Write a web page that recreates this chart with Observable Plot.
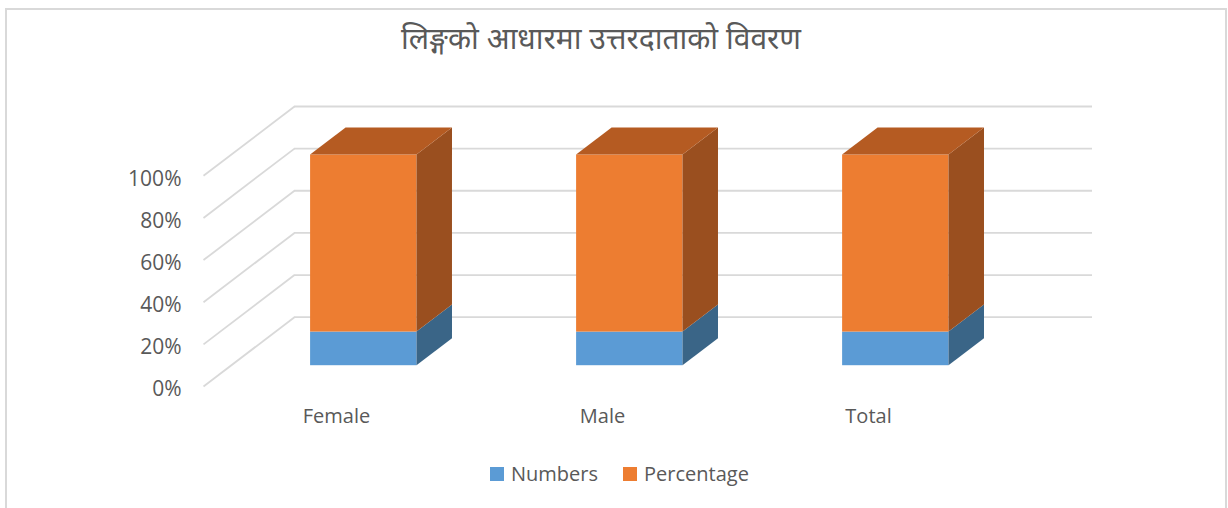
<!DOCTYPE html>
<html>
<head>
<meta charset="utf-8">
<script src="https://cdn.jsdelivr.net/npm/d3@7"></script>
<script src="https://cdn.jsdelivr.net/npm/@observablehq/plot@0.6"></script>
<style>
  html, body { margin: 0; padding: 0; background: #fff; width: 1228px; height: 508px; overflow: hidden; }
  #frame { position: absolute; left: 5px; top: 8px; width: 1222px; height: 520px; border: 2px solid #D9D9D9; box-sizing: border-box; pointer-events: none; }
  #title { height: 70px; display: flex; align-items: center; justify-content: center; padding-right: 26px; padding-top: 4px; box-sizing: border-box;
           font-family: "Noto Sans", sans-serif; font-size: 30px; color: #595959; }
  #chart { height: 370px; }
  #legend { height: 68px; display: flex; align-items: flex-start; padding-left: 490px; padding-top: 20px; box-sizing: border-box;
            font-family: "Open Sans", sans-serif; font-size: 20px; color: #595959; line-height: 28px; }
  .item { display: flex; align-items: center; margin-right: 25px; }
  .sw { width: 14px; height: 14px; margin-right: 7px; }
</style>
</head>
<body>
<div id="frame"></div>
<div id="title">लिङ्गको आधारमा उत्तरदाताको विवरण</div>
<div id="chart"></div>
<div id="legend"></div>
<script>
// ---- data ----
const categories = ["Female", "Male", "Total"];
const seriesNames = ["Numbers", "Percentage"];
const numbers = [10, 9, 19];
const percentage = [52.6, 47.4, 100];
const yTicks = [0, 20, 40, 60, 80, 100];

// ---- style ----
const frontColors = ["#5B9BD5", "#ED7D31"];
const sideColors = ["#3A6587", "#9A4F1F"];
const topColors = ["#3E6E99", "#B55B22"];
const gridColor = "#D9D9D9";

// oblique depth (in data units): full depth of floor
const DX = 0.342, DY = 32.9;
const D0 = 0.3, D1 = 0.69, HALF = 0.2;

// 100% stacked segments
const segments = categories.flatMap((c, i) => {
  const vals = [numbers[i], percentage[i]];
  const tot = d3.sum(vals);
  let lo = 0;
  return vals.map((v, k) => {
    const share = v / tot * 100;
    const seg = {i, k, lo, hi: lo + share, id: `${c}-${k}`};
    lo += share;
    return seg;
  });
});

const sidePts = segments.flatMap(d => [
  {id: d.id, x: d.i + HALF + D0 * DX, y1: d.lo + D0 * DY, y2: d.hi + D0 * DY, fill: sideColors[d.k]},
  {id: d.id, x: d.i + HALF + D1 * DX, y1: d.lo + D1 * DY, y2: d.hi + D1 * DY, fill: sideColors[d.k]}
]);
const topSegs = segments.filter(d => d.k === seriesNames.length - 1);
const topPts = topSegs.flatMap(d => [
  {id: d.id, y: d.hi + D0 * DY, x1: d.i - HALF + D0 * DX, x2: d.i + HALF + D0 * DX, fill: topColors[d.k]},
  {id: d.id, y: d.hi + D1 * DY, x1: d.i - HALF + D1 * DX, x2: d.i + HALF + D1 * DX, fill: topColors[d.k]}
]);

const xLo = -0.5, xHi = categories.length - 0.5;

const plot = Plot.plot({
  width: 1228,
  height: 370,
  marginLeft: 203,
  marginRight: 136,
  marginTop: 36,
  marginBottom: 54,
  style: {fontFamily: "Open Sans, sans-serif", background: "transparent"},
  x: {domain: [xLo, xHi + DX], axis: null},
  y: {domain: [0, 100 + DY], axis: null},
  color: {type: "identity"},
  marks: [
    // back wall gridlines
    Plot.ruleY(yTicks, {y: t => t + DY, x1: () => xLo + DX, x2: () => xHi + DX, stroke: gridColor, strokeWidth: 1.8}),
    // side wall diagonals
    Plot.link(yTicks, {x1: () => xLo, y1: t => t, x2: () => xLo + DX, y2: t => t + DY, stroke: gridColor, strokeWidth: 1.8}),
    // bars: front faces
    Plot.rect(segments, {
      x1: d => d.i - HALF + D0 * DX, x2: d => d.i + HALF + D0 * DX,
      y1: d => d.lo + D0 * DY, y2: d => d.hi + D0 * DY,
      fill: d => frontColors[d.k]
    }),
    // side faces
    Plot.areaY(sidePts, {x: "x", y1: "y1", y2: "y2", z: "id", fill: "fill"}),
    // top faces
    Plot.areaX(topPts, {y: "y", x1: "x1", x2: "x2", z: "id", fill: "fill"}),
    // axes
    Plot.axisY(yTicks, {tickFormat: d => d + "%", tickSize: 0, tickPadding: 22, fontSize: 21, dy: 3, color: "#595959", label: null}),
    Plot.axisX(categories.map((c, i) => i), {tickFormat: i => categories[i], tickSize: 0, tickPadding: 22, fontSize: 20, color: "#595959", label: null})
  ]
});
document.getElementById("chart").appendChild(plot);

// legend
const legend = document.getElementById("legend");
seriesNames.forEach((s, k) => {
  const item = document.createElement("div");
  item.className = "item";
  const sw = document.createElement("div");
  sw.className = "sw";
  sw.style.background = frontColors[k];
  const label = document.createElement("span");
  label.textContent = s;
  item.appendChild(sw);
  item.appendChild(label);
  legend.appendChild(item);
});
</script>
</body>
</html>
